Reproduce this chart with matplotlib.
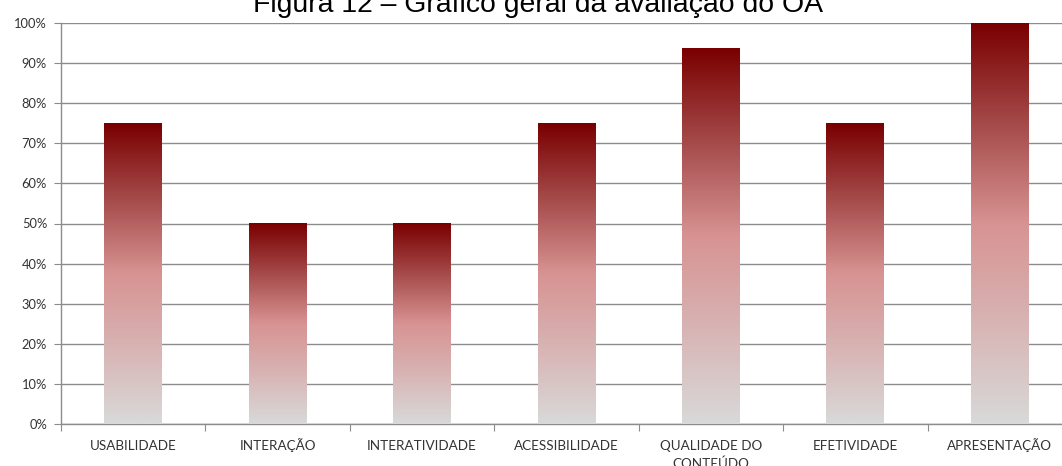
import matplotlib

matplotlib.use("Agg")
import matplotlib.pyplot as plt  # noqa: E402
import numpy as np  # noqa: E402
from matplotlib.colors import LinearSegmentedColormap  # noqa: E402
from matplotlib.transforms import offset_copy  # noqa: E402

TITLE = "Figura 12 – Gráfico geral da avaliação do OA"
CATEGORIES = ["USABILIDADE", "INTERAÇÃO", "INTERATIVIDADE", "ACESSIBILIDADE",
              "QUALIDADE DO\nCONTEÚDO", "EFETIVIDADE", "APRESENTAÇÃO"]
VALUES = [75, 50, 50, 75, 93.75, 75, 100]
Y_TICKS = [0, 10, 20, 30, 40, 50, 60, 70, 80, 90, 100]

W, H = 1062, 466
fig = plt.figure(figsize=(W / 100, H / 100), dpi=100)
ax = fig.add_axes([61 / W, 42 / H, 1011 / W, 401 / H])

cmap = LinearSegmentedColormap.from_list(
    "grad", [(0.0, "#d9d9d9"), (0.25, "#d8b4b4"), (0.5, "#d79392"),
             (0.75, "#a54a4a"), (1.0, "#7a0000")])
grad = np.linspace(0, 1, 256).reshape(-1, 1)

bw = 0.4
x = np.arange(len(CATEGORIES))
for xi, v in zip(x, VALUES):
    ax.imshow(grad, extent=[xi - bw / 2, xi + bw / 2, 0, v], origin="lower",
              aspect="auto", cmap=cmap, zorder=3, interpolation="bilinear")

ax.set_xlim(-0.5, len(CATEGORIES) - 0.5)
ax.set_ylim(0, 100)
ax.set_yticks(Y_TICKS)
ax.set_yticklabels([f"{t}%" for t in Y_TICKS])
ax.yaxis.grid(True, color="#8c8c8c", linewidth=1.0, zorder=0)
ax.set_axisbelow(True)

# categorie: etichette a mano, linea di base comune (anche con accenti)
ax.set_xticks(np.arange(len(CATEGORIES) + 1) - 0.5)
ax.set_xticklabels([])
ax.tick_params(axis="x", length=5, color="#8c8c8c")
lbl_tr = offset_copy(ax.get_xaxis_transform(), fig=fig, y=-26, units="dots")
for xi, name in zip(x, CATEGORIES):
    ax.text(xi, 0, name, transform=lbl_tr, ha="center", va="baseline",
            fontsize=9.7, color="#333333", family="Lato", linespacing=1.55,
            multialignment="center")
# (multi-line: baseline = ultima riga, quindi sposto su la prima)
for t in ax.texts:
    if "\n" in t.get_text():
        t.set_verticalalignment("top")
        t.set_transform(offset_copy(ax.get_xaxis_transform(), fig=fig,
                                    y=-16, units="dots"))

ax.tick_params(axis="y", length=5, color="#8c8c8c", labelsize=9.3,
               labelcolor="#333333", pad=5)
for lbl in ax.get_yticklabels():
    lbl.set_family("Lato")

for side in ("top", "right"):
    ax.spines[side].set_visible(False)
for side in ("left", "bottom"):
    ax.spines[side].set_color("#8c8c8c")
    ax.spines[side].set_linewidth(1.0)

fig.text(0.507, 1 - 11.5 / H, TITLE, ha="center", va="baseline",
         fontsize=20.4, family="Liberation Sans", color="#000000")

fig.savefig("out.png", dpi=100)
